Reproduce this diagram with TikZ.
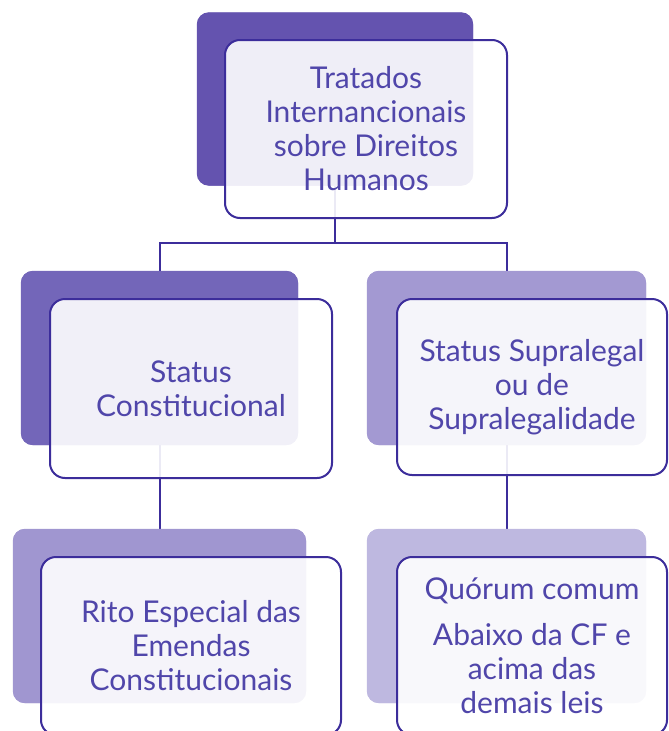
\documentclass[tikz,border=0pt]{standalone}
\usepackage{fontspec}
\newfontfamily\boxfont{Lato}

\definecolor{linecol}{RGB}{60,45,155}
\definecolor{textcol}{RGB}{80,70,170}
\definecolor{back1}{RGB}{100,83,175}
\definecolor{back2}{RGB}{115,102,185}
\definecolor{back3}{RGB}{163,153,210}
\definecolor{back4}{RGB}{160,150,208}
\definecolor{back5}{RGB}{190,184,224}

\tikzset{
  backbox/.style={rectangle, rounded corners=12pt, inner sep=0pt, draw=none},
  frontbox/.style={rectangle, rounded corners=15pt, inner sep=0pt,
    draw=linecol, line width=2pt, fill=white, fill opacity=0.9, text opacity=1,
    text=textcol, align=center, font=\boxfont\fontsize{30}{34}\selectfont},
  conn/.style={draw=linecol, line width=2pt}
}

\begin{document}
\begin{tikzpicture}[x=1pt, y=-1pt]
    \useasboundingbox (0,0) rectangle (669,731);
    \clip (0,0) rectangle (669,731);

    % Back shapes
    \node[backbox, fill=back1, minimum width=276pt, minimum height=173pt] (Tratados-back) at (335,99) {};
    \node[backbox, fill=back2, minimum width=277pt, minimum height=174pt] (Constitucional-back) at (159.5,358) {};
    \node[backbox, fill=back3, minimum width=279pt, minimum height=174pt] (Supralegal-back) at (506.5,358) {};
    \node[backbox, fill=back4, minimum width=293pt, minimum height=174pt] (Rito-back) at (159.5,616) {};
    \node[backbox, fill=back5, minimum width=279pt, minimum height=174pt] (Quorum-back) at (506.5,616) {};

    % Connectors
    \coordinate (split) at (335,243);
    \draw[conn] (Tratados-back.south) -- (split) -| (Constitucional-back.north);
    \draw[conn] (split) -| (Supralegal-back.north);
    \draw[conn] (Constitucional-back.south) -- (Rito-back.north);
    \draw[conn] (Supralegal-back.south) -- (Quorum-back.north);

    % Repaint back shapes over the connectors
    \foreach \n/\c in {Tratados/back1, Constitucional/back2, Supralegal/back3, Rito/back4, Quorum/back5}
    {
    	\fill[\c, rounded corners=12pt] (\n-back.south west) rectangle (\n-back.north east);
    }

    % Front boxes
    \node[frontbox, minimum width=282pt, minimum height=178pt] (Tratados) at (366,129)
    	{Tratados\\Internancionais\\sobre Direitos\\Humanos};
    \node[frontbox, minimum width=282pt, minimum height=179pt] (Constitucional) at (191,388.5)
    	{Status\\Constitucional};
    \node[frontbox, minimum width=270pt, minimum height=176pt] (Supralegal) at (532,387)
    	{Status Supralegal\\ou de\\Supralegalidade};
    \node[frontbox, minimum width=300pt, minimum height=178pt] (Rito) at (191,646)
    	{Rito Especial das\\Emendas\\Constitucionais};
    \node[frontbox, minimum width=270pt, minimum height=178pt] (Quorum) at (532,646)
    	{Quórum comum\\[12pt]Abaixo da CF e\\acima das\\demais leis};
\end{tikzpicture}
\end{document}
